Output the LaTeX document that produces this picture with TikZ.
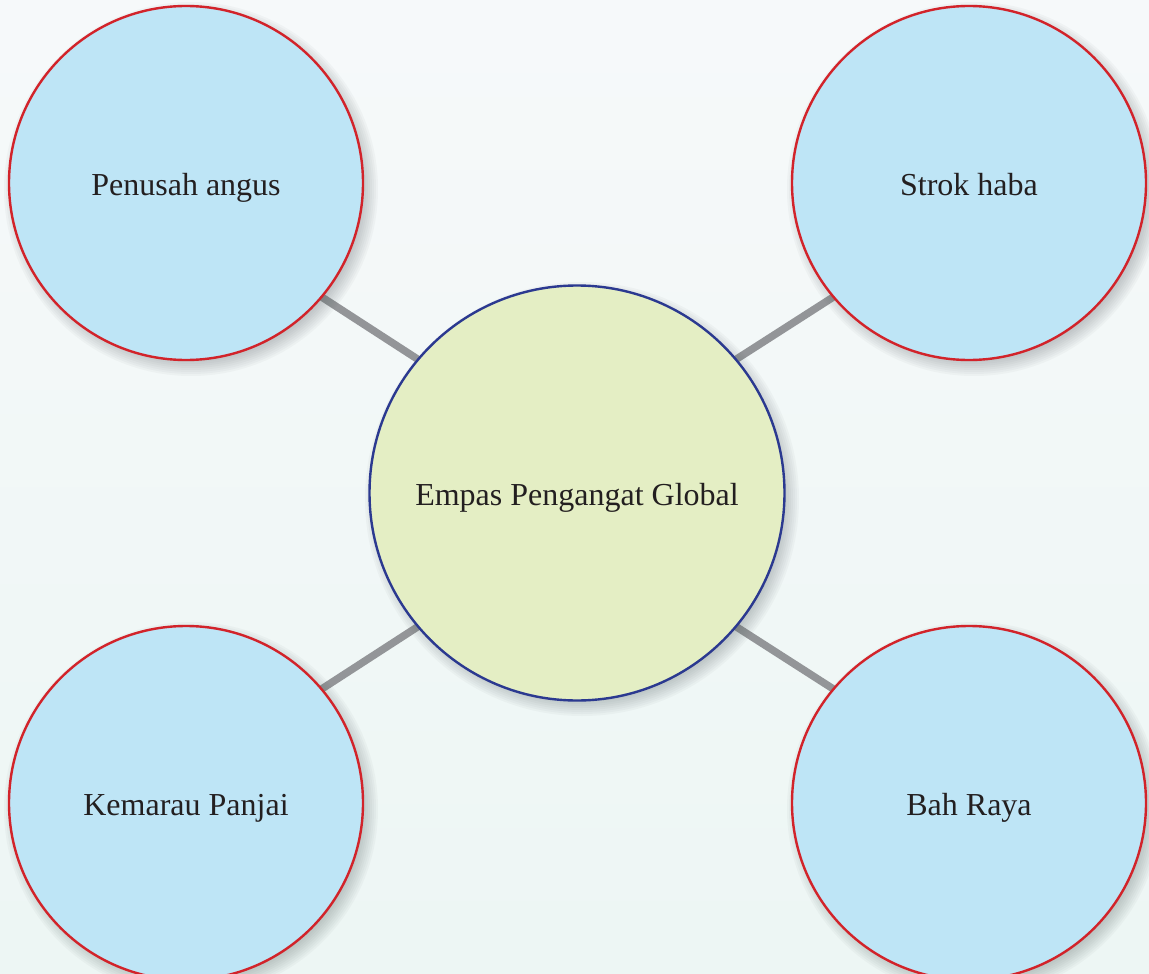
\documentclass[tikz,border=0pt]{standalone}
\usepackage{fontspec}
\setmainfont{Liberation Serif}
\pgfdeclarelayer{bg}
\pgfsetlayers{bg,main}
\definecolor{bgtop}{HTML}{F6F9FA}
\definecolor{bgbot}{HTML}{EDF6F4}
\definecolor{bubfill}{HTML}{BEE5F6}
\definecolor{bubred}{HTML}{D2232A}
\definecolor{hubfill}{HTML}{E4EEC4}
\definecolor{hubblue}{HTML}{2B3990}
\definecolor{linkgray}{HTML}{939598}
\definecolor{txt}{HTML}{231F20}
\definecolor{shadowc}{HTML}{5A6466}
\tikzset{
  label text/.style={text=txt, font=\fontsize{32}{38}\selectfont, text height=28pt, text depth=3pt},
  bubble/.style={circle, draw=bubred, line width=2.4pt, fill=bubfill, minimum size=354pt, inner sep=0pt, label text},
  hub/.style={circle, draw=hubblue, line width=2.4pt, fill=hubfill, minimum size=415pt, inner sep=0pt, label text},
  link/.style={draw=linkgray, line width=7.5pt, shorten <=-12pt, shorten >=-12pt},
  softshadow/.style={fill=shadowc, fill opacity=0.045}
}
\newcommand{\softshade}[2]{% node name, radius
  \foreach \k in {0,...,9}{
    \fill[softshadow] ([xshift=5pt,yshift=-6pt]#1.center) circle ({#2+10-2*\k});
  }
}
\begin{document}
\begin{tikzpicture}[x=1pt,y=-1pt]
\useasboundingbox (0,0) rectangle (1149,974);
\begin{pgfonlayer}{bg}
\foreach \i in {0,...,39}{
  \pgfmathsetmacro{\pc}{100-\i*2.564}
  \pgfmathsetmacro{\ya}{\i*24.35}
  \pgfmathsetmacro{\yb}{\i*24.35+25}
  \fill[bgtop!\pc!bgbot] (0,\ya) rectangle (1149,\yb);
}
\end{pgfonlayer}
\node[hub] (c) at (577,493) {Empas Pengangat Global};
\node[bubble] (tl) at (186,183) {Penusah angus};
\node[bubble] (tr) at (969,183) {Strok haba};
\node[bubble] (bl) at (186,803) {Kemarau Panjai};
\node[bubble] (br) at (969,803) {Bah Raya};
\begin{pgfonlayer}{bg}
\draw[link] (tl.-40) -- (c.140);
\draw[link] (tr.-140) -- (c.40);
\draw[link] (bl.40) -- (c.-140);
\draw[link] (br.140) -- (c.-40);
\softshade{c}{207}
\softshade{tl}{177}
\softshade{tr}{177}
\softshade{bl}{177}
\softshade{br}{177}
\end{pgfonlayer}
\end{tikzpicture}
\end{document}
